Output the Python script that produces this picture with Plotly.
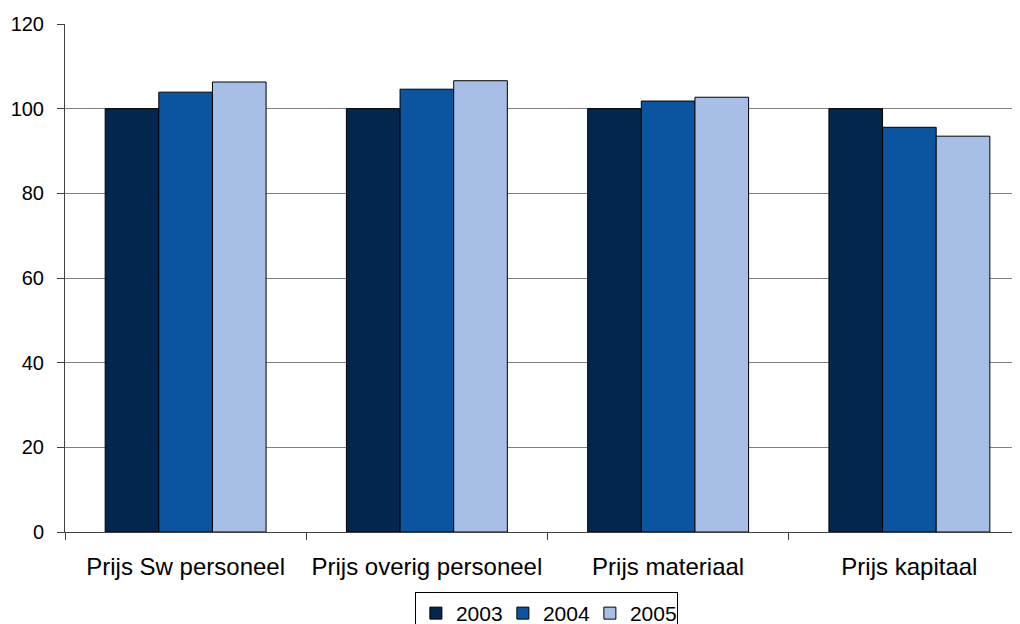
import plotly.graph_objects as go

categories = ["Prijs Sw personeel", "Prijs overig personeel", "Prijs materiaal", "Prijs kapitaal"]
years = ["2003", "2004", "2005"]
v2003 = [100, 100, 100, 100]
v2004 = [103.9, 104.6, 101.8, 95.6]
v2005 = [106.3, 106.6, 102.7, 93.5]
colors = ["#03264F", "#0B54A0", "#A7BFE6"]

fig = go.Figure()
for name, vals, col in zip(years, [v2003, v2004, v2005], colors):
    fig.add_trace(go.Bar(
        x=categories, y=vals, name=name,
        marker=dict(color=col, line=dict(color="#000000", width=1)),
    ))

# page has an 8px body margin, so the figure is sized to fill the rest of the window
fig.update_layout(
    width=1012, height=616,
    margin=dict(l=57, r=0, t=16, b=92, autoexpand=False),
    plot_bgcolor="white", paper_bgcolor="white",
    font=dict(family="Liberation Sans, Arial, sans-serif", size=20, color="#000000"),
    barmode="group", bargap=0.333, bargroupgap=0,
    showlegend=True,
    legend=dict(
        orientation="h", xref="container", yref="container",
        x=0.532, xanchor="center", y=0.052, yanchor="top",
        bordercolor="#000000", borderwidth=1, bgcolor="white",
        font=dict(size=21), itemwidth=30, tracegroupgap=0,
        entrywidthmode="pixels", entrywidth=42,
    ),
)
fig.update_xaxes(
    range=[-0.5, 3.5 - 10 / 241.25], automargin=False,
    showline=True, linecolor="#404040", linewidth=1,
    ticks="outside", tickson="boundaries", ticklen=7, tickcolor="#404040",
    showgrid=False, tickfont=dict(size=24), ticklabelstandoff=13,
)
fig.update_yaxes(
    range=[0, 120], dtick=20, automargin=False,
    showline=True, linecolor="#404040", linewidth=1,
    ticks="outside", ticklen=7, tickcolor="#404040",
    showgrid=True, gridcolor="#808080", gridwidth=1,
    zeroline=False, ticklabelstandoff=9,
)

fig.write_html("out.html")
